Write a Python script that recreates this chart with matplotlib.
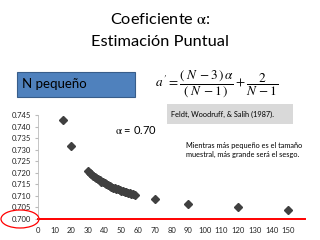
import matplotlib
matplotlib.use("Agg")
import matplotlib.pyplot as plt
from matplotlib.patches import Ellipse, Rectangle

plt.rcParams['font.family'] = ['Lato', 'DejaVu Sans']
plt.rcParams['mathtext.fontset'] = 'stix'

# tamaño muestral N y alfa corregido
n_vals = [15, 20, 30, 31, 32, 33, 34, 35, 36, 37, 38, 39, 40, 41, 42, 43, 44,
          45, 46, 47, 48, 49, 50, 51, 52, 53, 54, 55, 56, 57, 58, 70, 90, 120, 150]
alpha_vals = [0.7429, 0.7316, 0.7207, 0.7200, 0.7194, 0.7188, 0.7182, 0.7176,
              0.7171, 0.7167, 0.7162, 0.7158, 0.7154, 0.7150, 0.7146, 0.7143,
              0.7140, 0.7136, 0.7133, 0.7130, 0.7128, 0.7125, 0.7122, 0.7120,
              0.7118, 0.7115, 0.7113, 0.7111, 0.7109, 0.7107, 0.7105, 0.7087,
              0.7067, 0.7050, 0.7040]
alpha_pob = 0.70
y_ticks = [0.700, 0.705, 0.710, 0.715, 0.720, 0.725, 0.730, 0.735, 0.740, 0.745]
x_ticks = list(range(0, 151, 10))

fig = plt.figure(figsize=(3.2, 2.4), dpi=100)
ax = fig.add_axes([0.119, 0.0875, 0.834, 0.4333])

ax.plot(n_vals, alpha_vals, linestyle='none', marker='D', markersize=3.8,
        color='#404040', zorder=3)
ax.axhline(alpha_pob, color='#ff0000', linewidth=1.4, zorder=2, clip_on=False)

ax.set_xlim(0, 160)
ax.set_ylim(0.700, 0.745)
ax.set_yticks(y_ticks)
ax.set_yticklabels(['%.3f' % v for v in y_ticks])
ax.set_xticks(x_ticks)
ax.tick_params(axis='both', labelsize=5.5, colors='#222222', length=0)
ax.tick_params(axis='x', pad=6)
ax.tick_params(axis='y', length=2, color='#bbbbbb', direction='out', pad=3)
for s in ['top', 'right', 'bottom']:
    ax.spines[s].set_visible(False)
ax.spines['left'].set_color('#bbbbbb')
ax.spines['left'].set_linewidth(0.6)
ax.patch.set_alpha(0)

# titulo
fig.text(0.5, 0.92, r'Coeficiente $\mathrm{\alpha}$:', ha='center', va='center', fontsize=11.8)
fig.text(0.5, 0.825, 'Estimación Puntual', ha='center', va='center', fontsize=11.8)

# caja azul
fig.patches.append(Rectangle((17 / 320, 1 - 97 / 240), 118 / 320, 25 / 240,
                             transform=fig.transFigure, facecolor='#4f81bd',
                             edgecolor='#385d8a', linewidth=0.8))
fig.text(22 / 320, 1 - 84.5 / 240, 'N pequeño', ha='left', va='center', fontsize=9.5)

# formula
fig.text(217 / 320, 1 - 84 / 240,
         r"$a\,' = \dfrac{(\;N\,-3\,)\,\alpha}{(\;N\,-1\,)} + \dfrac{2}{N\,-1}$",
         ha='center', va='center', fontsize=9.5)

# caja gris
fig.patches.append(Rectangle((167 / 320, 1 - 124 / 240), 126 / 320, 20 / 240,
                             transform=fig.transFigure, facecolor='#d9d9d9',
                             edgecolor='none'))
fig.text(171 / 320, 1 - 114 / 240, 'Feldt, Woodruff, & Salih (1987).',
         ha='left', va='center', fontsize=5.3)

fig.text(115 / 320, 1 - 130 / 240, r'$\mathrm{\alpha}$ = 0.70', ha='left', va='center', fontsize=8)
fig.text(186 / 320, 1 - 150 / 240,
         'Mientras más pequeño es el tamaño\nmuestral, más grande será el sesgo.',
         ha='left', va='center', fontsize=5.3, linespacing=1.3)

# circulo rojo en 0.700
fig.patches.append(Ellipse((20 / 320, 1 - 219 / 240), 38 / 320, 18 / 240,
                           transform=fig.transFigure, facecolor='none',
                           edgecolor='#ff0000', linewidth=0.9))

fig.savefig('out.png', dpi=100)
